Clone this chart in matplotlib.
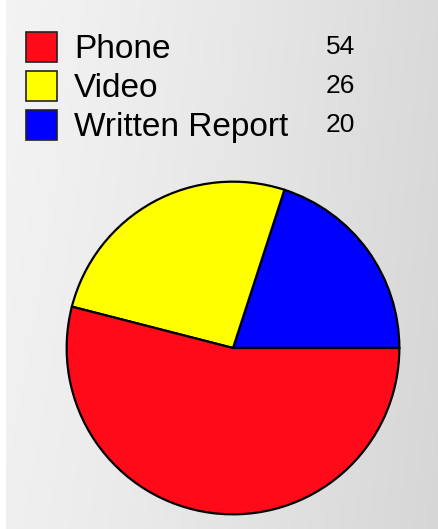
import matplotlib
matplotlib.use("Agg")
import matplotlib.pyplot as plt
import numpy as np
from matplotlib.patches import Rectangle

# data, legend order top to bottom
labels = ["Phone", "Video", "Written Report"]
values = [54, 26, 20]
colors = ["#fe0a18", "#ffff00", "#0000ff"]

W, H = 439, 529
plt.rcParams['font.family'] = ['Liberation Sans', 'DejaVu Sans']

fig = plt.figure(figsize=(W / 100, H / 100), dpi=100)

# background: light gray gradient, white strip on the left
bg = fig.add_axes([0, 0, 1, 1])
bg.set_xlim(0, W)
bg.set_ylim(H, 0)
bg.axis("off")
xx = np.linspace(0, 1, W)
yy = np.linspace(0, 1, H)
gx, gy = np.meshgrid(xx, yy)
shade = 0.955 - 0.10 * gx ** 1.2 - 0.015 * gy
shade[:, :6] = 1.0
bg.imshow(np.dstack([shade] * 3), extent=(0, W, H, 0), aspect="auto", zorder=0)

# legend block: swatch, label, value
for i, (lab, val, col) in enumerate(zip(labels, values, colors)):
    top = 32 + i * 39
    bg.add_patch(Rectangle((26, top), 31, 30, facecolor=col,
                           edgecolor="#222222", linewidth=1.2, zorder=2))
    base = 58 + i * 39
    bg.text(74, base, lab, fontsize=24, color="black",
            va="baseline", ha="left", zorder=3)
    bg.text(326, base - 4, str(val), fontsize=19, color="black",
            va="baseline", ha="left", zorder=3)

# pie: counterclockwise from 3 o'clock, blue, yellow, red
cx, cy, r = 233, 348, 168
ax = fig.add_axes([(cx - r) / W, (H - cy - r) / H, 2 * r / W, 2 * r / H])
ax.pie(values[::-1], colors=colors[::-1], startangle=0, counterclock=True,
       radius=1.0, wedgeprops=dict(edgecolor="black", linewidth=1.6))
ax.set_xlim(-1.01, 1.01)
ax.set_ylim(-1.01, 1.01)
ax.axis("off")

fig.savefig("out.png", dpi=100)
